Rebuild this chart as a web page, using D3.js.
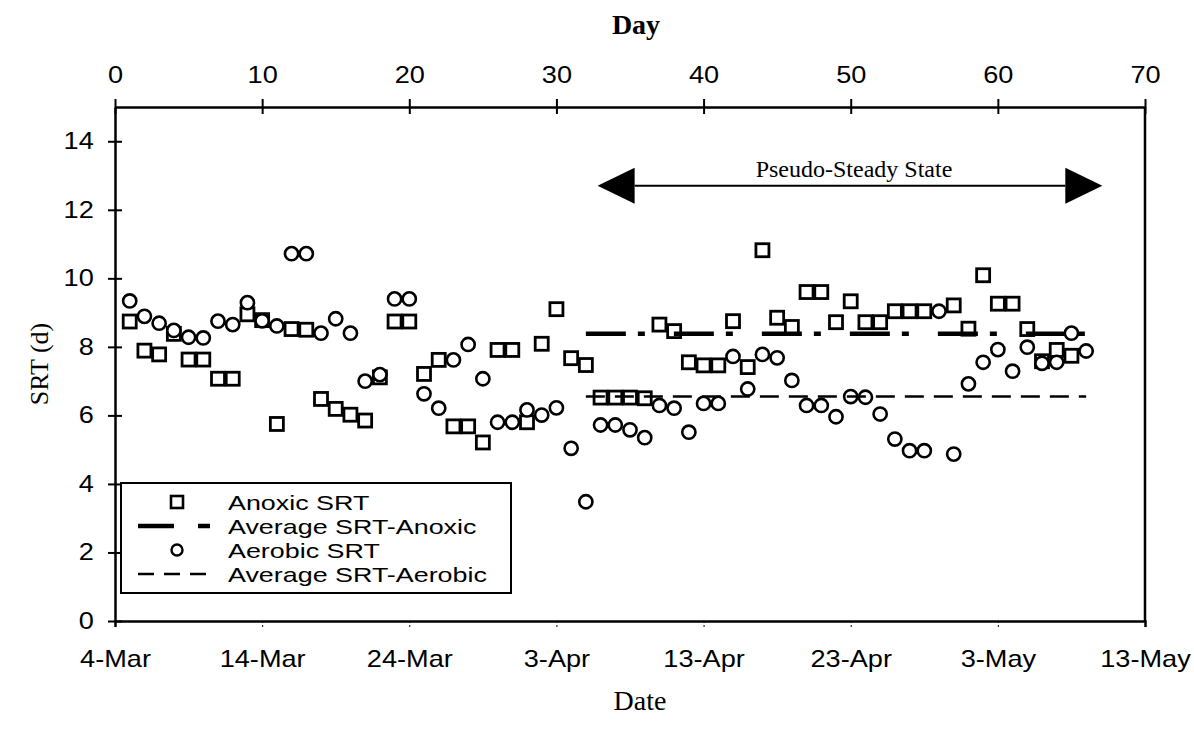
<!DOCTYPE html>
<html>
<head>
<meta charset="utf-8">
<script src="https://cdn.jsdelivr.net/npm/d3@7"></script>
<style>
  body { margin: 0; background: #fff; }
  svg { display: block; }
</style>
</head>
<body>
<svg id="chart"></svg>
<script>
(function () {
  // Variables
  var WIDTH = 1194
  var HEIGHT = 732
  var SANS = '"Liberation Sans", Arial, sans-serif'
  var SERIF = '"Liberation Serif", "Times New Roman", serif'
  var STRETCH = 'scale(1.18,1)' // the scanned sans text is wide

  // data (day after 4-Mar)
  var days = [1, 2, 3, 4, 5, 6, 7, 8, 9, 10,
    11, 12, 13, 14, 15, 16, 17, 18, 19, 20,
    21, 22, 23, 24, 25, 26, 27, 28, 29, 30,
    31, 32, 33, 34, 35, 36, 37, 38, 39, 40,
    41, 42, 43, 44, 45, 46, 47, 48, 49, 50,
    51, 52, 53, 54, 55, 56, 57, 58, 59, 60,
    61, 62, 63, 64, 65, 66]
  var anoxic = [8.74, 7.89, 7.78, 8.38, 7.63, 7.63, 7.07, 7.07, 8.95, 8.78,
    5.75, 8.52, 8.5, 6.48, 6.19, 6.02, 5.85, 7.11, 8.74, 8.74,
    7.21, 7.62, 5.68, 5.68, 5.21, 7.91, 7.91, 5.8, 8.09, 9.1,
    7.67, 7.47, 6.52, 6.52, 6.52, 6.5, 8.65, 8.46, 7.55, 7.46,
    7.46, 8.75, 7.41, 10.82, 8.85, 8.58, 9.6, 9.6, 8.72, 9.33,
    8.72, 8.72, 9.04, 9.04, 9.04, null, 9.21, 8.53, 10.09, 9.26,
    9.26, 8.52, 7.58, 7.91, 7.74, null]
  var aerobic = [9.34, 8.89, 8.69, 8.48, 8.28, 8.26, 8.75, 8.65, 9.29, 8.76,
    8.61, 10.72, 10.72, 8.4, 8.82, 8.4, 7.0, 7.19, 9.4, 9.4,
    6.63, 6.21, 7.62, 8.07, 7.07, 5.8, 5.8, 6.16, 6.01, 6.22,
    5.04, 3.48, 5.72, 5.72, 5.58, 5.35, 6.29, 6.21, 5.51, 6.35,
    6.35, 7.72, 6.77, 7.78, 7.68, 7.02, 6.29, 6.29, 5.96, 6.55,
    6.53, 6.04, 5.31, 4.97, 4.97, 9.04, 4.87, 6.92, 7.55, 7.92,
    7.29, 7.99, 7.52, 7.55, 8.4, 7.88]
  var avgAnoxic = 8.38
  var avgAerobic = 6.55
  var avgSpan = [32, 66]
  var steadySpan = [32.8, 67.1]
  var steadyLevel = 12.7
  var dayTicks = [0, 10, 20, 30, 40, 50, 60, 70]
  var yTicks = [0, 2, 4, 6, 8, 10, 12, 14]
  var legendLabels = ['Anoxic SRT', 'Average SRT-Anoxic', 'Aerobic SRT', 'Average SRT-Aerobic']

  var startDate = new Date(Date.UTC(2001, 2, 4))
  function dayToDate (d) { return d3.utcDay.offset(startDate, d) }

  var left = 115
  var right = 1145
  var top = 107
  var bottom = 621

  var svg = d3.select('#chart')
    .attr('width', WIDTH)
    .attr('height', HEIGHT)

  var x = d3.scaleUtc()
    .domain([dayToDate(0), dayToDate(70)])
    .range([left, right])
  var xDay = d3.scaleLinear().domain([0, 70]).range([left, right])
  var y = d3.scaleLinear().domain([0, 15]).range([bottom, top])

  // right frame line
  svg.append('line')
    .attr('x1', right).attr('x2', right)
    .attr('y1', top).attr('y2', bottom)
    .attr('stroke', '#000').attr('stroke-width', 2.5)

  // bottom date axis
  var xAxis = svg.append('g')
    .attr('transform', 'translate(0,' + bottom + ')')
    .call(d3.axisBottom(x)
      .tickValues(dayTicks.map(dayToDate))
      .tickFormat(d3.utcFormat('%-d-%b'))
      .tickSize(6)
      .tickPadding(24))
  xAxis.select('.domain').attr('stroke-width', 2.5)
  xAxis.selectAll('.tick line').attr('stroke-width', 1).attr('stroke-dasharray', '2,2')
  xAxis.selectAll('text')
    .attr('transform', STRETCH)
    .style('font-family', SANS).style('font-size', '23px').attr('fill', '#000')

  // top day axis
  var topAxis = svg.append('g')
    .attr('transform', 'translate(0,' + top + ')')
    .call(d3.axisTop(xDay)
      .tickValues(dayTicks)
      .tickSizeInner(8)
      .tickSizeOuter(0)
      .tickPadding(16))
  topAxis.select('.domain').attr('stroke-width', 2.5)
  topAxis.selectAll('.tick line').attr('y2', -8).attr('y1', 7).attr('stroke-width', 2)
  topAxis.selectAll('text')
    .attr('transform', STRETCH)
    .style('font-family', SANS).style('font-size', '23px').attr('fill', '#000')

  // left y axis
  var yAxis = svg.append('g')
    .attr('transform', 'translate(' + left + ',0)')
    .call(d3.axisLeft(y)
      .tickValues(yTicks)
      .tickSizeInner(7)
      .tickSizeOuter(0)
      .tickPadding(11))
  yAxis.select('.domain').attr('stroke-width', 2.5)
  yAxis.selectAll('.tick line').attr('x2', -7).attr('x1', 7).attr('stroke-width', 2)
  yAxis.selectAll('text')
    .attr('transform', STRETCH)
    .style('font-family', SANS).style('font-size', '23px').attr('fill', '#000')

  // axis titles
  svg.append('text')
    .attr('x', 636).attr('y', 34)
    .attr('text-anchor', 'middle').attr('fill', '#000')
    .style('font-family', SERIF).style('font-size', '28px').style('font-weight', 'bold')
    .text('Day')
  svg.append('text')
    .attr('x', 640).attr('y', 710)
    .attr('text-anchor', 'middle').attr('fill', '#000')
    .style('font-family', SERIF).style('font-size', '28px')
    .text('Date')
  svg.append('text')
    .attr('transform', 'translate(48,' + (top + bottom) / 2 + ') rotate(-90)')
    .attr('text-anchor', 'middle').attr('fill', '#000')
    .style('font-family', SERIF).style('font-size', '26px')
    .text('SRT (d)')

  // pseudo-steady state arrow
  var ay = y(steadyLevel)
  var ax0 = xDay(steadySpan[0])
  var ax1 = xDay(steadySpan[1])
  var head = 37
  var halfH = 18
  svg.append('line')
    .attr('x1', ax0 + head).attr('x2', ax1 - head)
    .attr('y1', ay).attr('y2', ay)
    .attr('stroke', '#000').attr('stroke-width', 2)
  svg.append('path')
    .attr('d', 'M' + ax0 + ',' + ay + 'L' + (ax0 + head) + ',' + (ay - halfH) + 'L' + (ax0 + head) + ',' + (ay + halfH) + 'Z')
  svg.append('path')
    .attr('d', 'M' + ax1 + ',' + ay + 'L' + (ax1 - head) + ',' + (ay - halfH) + 'L' + (ax1 - head) + ',' + (ay + halfH) + 'Z')
  svg.append('text')
    .attr('x', (ax0 + ax1) / 2 + 4).attr('y', ay - 9)
    .attr('text-anchor', 'middle').attr('fill', '#000')
    .style('font-family', SERIF).style('font-size', '24px')
    .text('Pseudo-Steady State')

  var plot = svg.append('g').classed('plot', true)

  // anoxic squares
  var sq = 13
  plot.append('g')
    .selectAll('rect')
    .data(days.filter(function (d, i) { return anoxic[i] != null }))
    .enter().append('rect')
    .attr('x', function (d) { return x(dayToDate(d)) - sq / 2 })
    .attr('y', function (d) { return y(anoxic[days.indexOf(d)]) - sq / 2 })
    .attr('width', sq).attr('height', sq)
    .attr('fill', '#fff').attr('stroke', '#000').attr('stroke-width', 2.8)

  // anoxic average
  plot.append('line')
    .attr('x1', x(dayToDate(avgSpan[0]))).attr('x2', x(dayToDate(avgSpan[1])))
    .attr('y1', y(avgAnoxic)).attr('y2', y(avgAnoxic))
    .attr('stroke', '#000').attr('stroke-width', 4.5)
    .attr('stroke-dasharray', '40,12,7,29')

  // aerobic circles
  plot.append('g')
    .selectAll('circle')
    .data(days.filter(function (d, i) { return aerobic[i] != null }))
    .enter().append('circle')
    .attr('cx', function (d) { return x(dayToDate(d)) })
    .attr('cy', function (d) { return y(aerobic[days.indexOf(d)]) })
    .attr('r', 6.6)
    .attr('fill', '#fff').attr('stroke', '#000').attr('stroke-width', 2.6)

  // aerobic average
  plot.append('line')
    .attr('x1', x(dayToDate(avgSpan[0]))).attr('x2', x(dayToDate(avgSpan[1])))
    .attr('y1', y(avgAerobic)).attr('y2', y(avgAerobic))
    .attr('stroke', '#000').attr('stroke-width', 2.4)
    .attr('stroke-dasharray', '19,10')

  // legend
  var legend = svg.append('g').attr('transform', 'translate(121,483)')
  legend.append('rect')
    .attr('width', 390).attr('height', 110)
    .attr('fill', '#fff').attr('stroke', '#000').attr('stroke-width', 2)
  var rowY = [19, 43, 67, 91]
  legend.append('rect')
    .attr('x', 56 - 6).attr('y', rowY[0] - 6).attr('width', 12).attr('height', 12)
    .attr('fill', '#fff').attr('stroke', '#000').attr('stroke-width', 2.6)
  legend.append('line')
    .attr('x1', 17).attr('x2', 90).attr('y1', rowY[1]).attr('y2', rowY[1])
    .attr('stroke', '#000').attr('stroke-width', 4.5).attr('stroke-dasharray', '36,24,12,100')
  legend.append('circle')
    .attr('cx', 56).attr('cy', rowY[2]).attr('r', 5.5)
    .attr('fill', '#fff').attr('stroke', '#000').attr('stroke-width', 2.4)
  legend.append('line')
    .attr('x1', 17).attr('x2', 88).attr('y1', rowY[3]).attr('y2', rowY[3])
    .attr('stroke', '#000').attr('stroke-width', 2.4).attr('stroke-dasharray', '16,10')
  legend.selectAll('text.lab')
    .data(legendLabels)
    .enter().append('text')
    .classed('lab', true)
    .attr('transform', function (d, i) { return 'translate(107,' + (rowY[i] + 8) + ') scale(1.28,1)' })
    .attr('fill', '#000')
    .style('font-family', SANS).style('font-size', '21px')
    .text(function (d) { return d })
})()
</script>
</body>
</html>
